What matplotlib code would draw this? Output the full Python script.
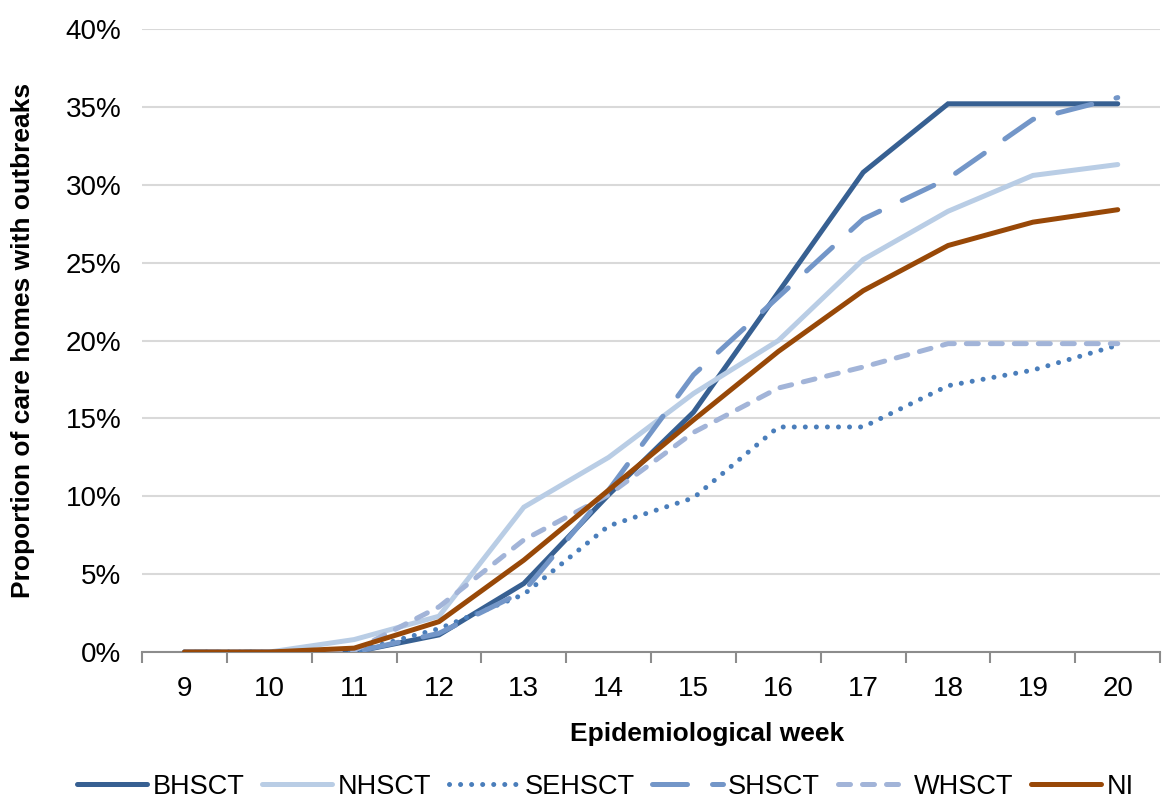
import matplotlib
matplotlib.use("Agg")
import matplotlib.pyplot as plt
from matplotlib.ticker import PercentFormatter, FixedLocator

weeks = [9, 10, 11, 12, 13, 14, 15, 16, 17, 18, 19, 20]
bhsct = [0.0, 0.0, 0.0, 1.1, 4.4, 10.1, 15.4, 23.1, 30.8, 35.2, 35.2, 35.2]
nhsct = [0.0, 0.0, 0.8, 2.3, 9.3, 12.5, 16.6, 20.0, 25.2, 28.3, 30.6, 31.3]
sehsct = [0.0, 0.0, 0.0, 1.5, 3.7, 8.1, 9.9, 14.45, 14.45, 17.1, 18.1, 19.7]
shsct = [0.0, 0.0, 0.0, 1.2, 3.9, 10.4, 17.8, 22.8, 27.8, 30.4, 34.2, 35.6]
whsct = [0.0, 0.0, 0.1, 2.9, 7.2, 10.1, 14.1, 16.95, 18.3, 19.8, 19.8, 19.8]
ni = [0.0, 0.0, 0.25, 1.95, 5.9, 10.4, 14.9, 19.3, 23.2, 26.1, 27.6, 28.4]

series_names = ["BHSCT", "NHSCT", "SEHSCT", "SHSCT", "WHSCT", "NI"]
series_values = [bhsct, nhsct, sehsct, shsct, whsct, ni]
colors = ["#376092", "#b9cde5", "#4a7ebb", "#7396c8", "#a2b4d8", "#984807"]
styles = ["-", "-", (0, (0.01, 2.2)), (0, (7, 5)), (0, (2.4, 2.4)), "-"]

plt.rcParams["font.family"] = ["Liberation Sans", "DejaVu Sans"]

fig = plt.figure(figsize=(11.66, 8.02), dpi=100)
ax = fig.add_axes([0.1218, 0.187, 0.995 - 0.1218, 0.9638 - 0.187])

for name, vals, c, ls in zip(series_names, series_values, colors, styles):
    ax.plot(weeks, vals, color=c, linestyle=ls, linewidth=3.6, label=name,
            dash_capstyle="round", solid_capstyle="round", solid_joinstyle="miter")

ax.set_xlim(8.5, 20.5)
ax.set_ylim(0, 40)
ax.yaxis.set_major_locator(FixedLocator([0, 5, 10, 15, 20, 25, 30, 35, 40]))
ax.yaxis.set_major_formatter(PercentFormatter(decimals=0))
ax.set_xticks(weeks)
ax.set_xticks([w - 0.5 for w in weeks] + [20.5], minor=True)
ax.tick_params(axis="x", which="major", length=0, pad=17.5, labelsize=20, colors="black")
ax.tick_params(axis="x", which="minor", length=8, width=1.5, color="#8c8c8c", direction="out")
ax.tick_params(axis="y", which="major", length=0, pad=15, labelsize=20)

for s in ["top", "right", "left"]:
    ax.spines[s].set_visible(False)
ax.spines["bottom"].set_color("#8c8c8c")
ax.spines["bottom"].set_linewidth(1.5)
ax.spines["bottom"].set_zorder(1)

ax.yaxis.grid(True, color="#d9d9d9", linewidth=1.5)
ax.set_axisbelow(True)

ax.set_xlabel("Epidemiological week", fontsize=19, fontweight="bold")
ax.xaxis.set_label_coords(0.555, -0.112)
ax.set_ylabel("Proportion of care homes with outbreaks", fontsize=19, fontweight="bold", labelpad=22)

fig.legend(loc="center", bbox_to_anchor=(0.519, 0.019), ncol=6, frameon=False,
           fontsize=19.5, handlelength=2.6, handletextpad=0.2, columnspacing=0.65)

fig.savefig("out.png", dpi=100)
